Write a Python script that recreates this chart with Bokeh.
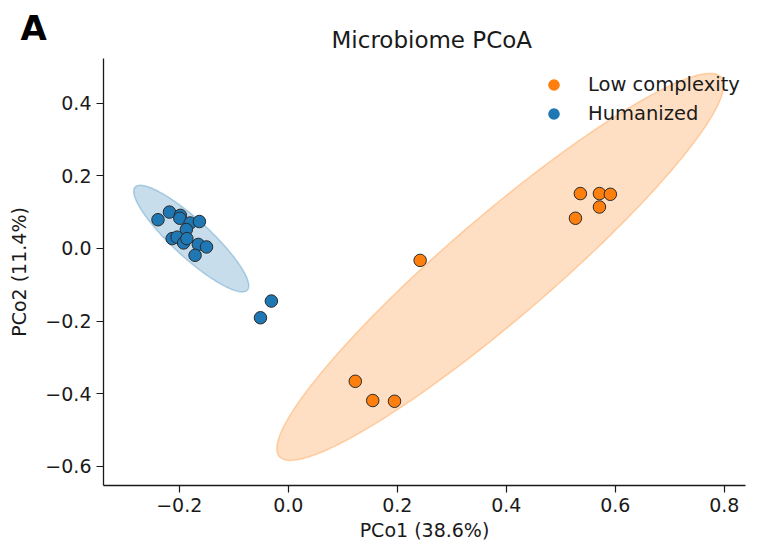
import numpy as np
from bokeh.plotting import figure
from bokeh.models import ColumnDataSource, FixedTicker, Range1d, Legend, LegendItem, Title
from bokeh.embed import file_html
from bokeh.resources import INLINE

# ---- data ----
groups = ["Low complexity", "Humanized"]
colors = ["#ff7f0e", "#1f77b4"]

low_x = [0.536, 0.571, 0.591, 0.571, 0.527, 0.242, 0.123, 0.155, 0.195]
low_y = [0.151, 0.151, 0.149, 0.114, 0.083, -0.033, -0.366, -0.419, -0.421]

hum_x = [-0.239, -0.218, -0.198, -0.199, -0.180, -0.163, -0.187, -0.213,
         -0.204, -0.192, -0.186, -0.165, -0.150, -0.171, -0.031, -0.051]
hum_y = [0.079, 0.100, 0.091, 0.083, 0.070, 0.074, 0.052, 0.027,
         0.031, 0.015, 0.027, 0.011, 0.004, -0.019, -0.145, -0.191]

# confidence ellipse parameters: centre, scaled std (x, y), pearson r
ell_cx = [0.389, -0.178]
ell_cy = [-0.051, 0.027]
ell_rx = [0.410, 0.1056]
ell_ry = [0.533, 0.1468]
ell_r = [0.939, -0.886]

x_ticks = [-0.2, 0.0, 0.2, 0.4, 0.6, 0.8]
x_tick_labels = ["\u22120.2", "0.0", "0.2", "0.4", "0.6", "0.8"]
y_ticks = [-0.6, -0.4, -0.2, 0.0, 0.2, 0.4]
y_tick_labels = ["\u22120.6", "\u22120.4", "\u22120.2", "0.0", "0.2", "0.4"]

FONT = "DejaVu Sans"

p = figure(width=761, height=545, output_backend="svg", toolbar_location=None,
           x_range=Range1d(-0.339, 0.839), y_range=Range1d(-0.653, 0.523),
           min_border_left=103, min_border_right=16, min_border_top=58, min_border_bottom=60)
p.outline_line_color = None
p.grid.visible = False

# ellipses
t = np.linspace(0, 2 * np.pi, 200)
for cx, cy, rx, ry, r, c in zip(ell_cx, ell_cy, ell_rx, ell_ry, ell_r, colors):
    u = np.sqrt(1 + r) * np.cos(t)
    v = np.sqrt(1 - r) * np.sin(t)
    ex = cx + rx * (u - v) / np.sqrt(2)
    ey = cy + ry * (u + v) / np.sqrt(2)
    p.patch(ex, ey, fill_color=c, fill_alpha=0.25, line_color=c, line_alpha=0.3, line_width=1.5)

# points
items = []
for g, xs, ys, c in zip(groups, [low_x, hum_x], [low_y, hum_y], colors):
    src = ColumnDataSource(dict(x=xs, y=ys))
    # legend proxy (edge-less marker), fully hidden under the real points
    r_leg = p.scatter("x", "y", source=src, size=9, fill_color=c, line_alpha=0)
    p.scatter("x", "y", source=src, size=12.5, fill_color=c, line_color="#2a2a2a", line_width=1)
    items.append(LegendItem(label=g, renderers=[r_leg]))

legend = Legend(items=items, location=(434, 357), padding=0, margin=0,
                glyph_width=33, glyph_height=29, label_height=20, spacing=0,
                label_standoff=18, border_line_alpha=0, background_fill_alpha=0,
                label_text_font=FONT, label_text_font_size="19.5px", label_text_color="#1a1a1a")
p.add_layout(legend)

# axes
for ax, ticks, labels, name in [(p.xaxis[0], x_ticks, x_tick_labels, "PCo1 (38.6%)"),
                                (p.yaxis[0], y_ticks, y_tick_labels, "PCo2 (11.4%)")]:
    ax.ticker = FixedTicker(ticks=ticks)
    ax.major_label_overrides = {tk: lb for tk, lb in zip(ticks, labels)}
    ax.minor_tick_line_color = None
    ax.major_tick_in = 0
    ax.major_tick_out = 7
    ax.major_tick_line_width = 1.2
    ax.axis_line_width = 1.3
    ax.axis_line_color = "#1a1a1a"
    ax.major_tick_line_color = "#1a1a1a"
    ax.major_label_text_font = FONT
    ax.major_label_text_font_size = "19px"
    ax.major_label_text_color = "#1a1a1a"
    ax.major_label_standoff = 5
    ax.axis_label = name
    ax.axis_label_text_font = FONT
    ax.axis_label_text_font_size = "19px"
    ax.axis_label_text_font_style = "normal"
    ax.axis_label_text_color = "#1a1a1a"
p.xaxis[0].axis_label_standoff = 4
p.yaxis[0].axis_label_standoff = 12

# panel letter (outer title) and chart title (inner title)
p.title = Title(text="A", align="left", offset=-83, text_font=FONT, text_font_size="34px",
                text_font_style="bold", text_color="black", standoff=-58)
p.add_layout(Title(text="Microbiome PCoA", align="left", offset=228, text_font=FONT,
                   text_font_size="23px", text_font_style="normal", text_color="#1a1a1a",
                   standoff=12), "above")

open("out.html", "w").write(file_html(p, INLINE))
